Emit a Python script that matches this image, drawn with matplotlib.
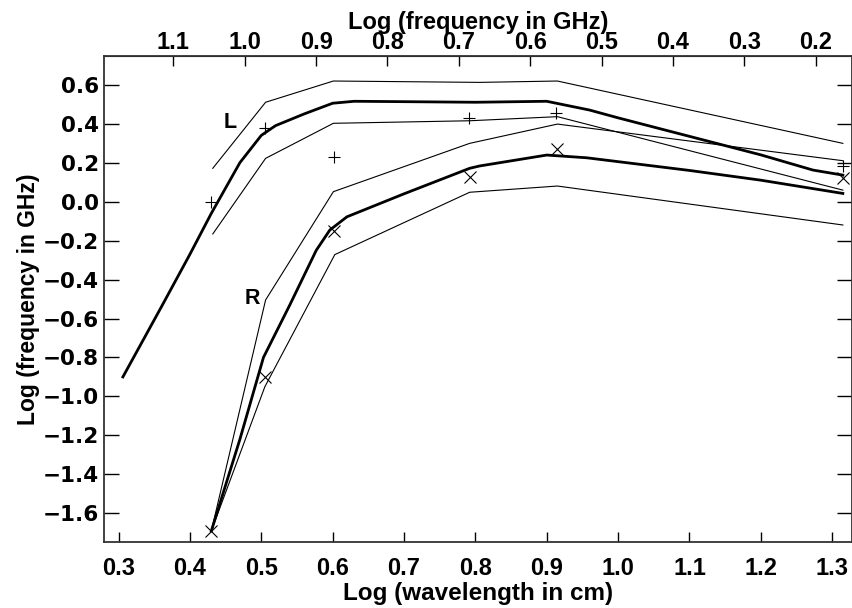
import numpy as np
import matplotlib
matplotlib.use("Agg")
import matplotlib.pyplot as plt

plt.rcParams['font.family'] = ['Liberation Sans', 'DejaVu Sans']
plt.rcParams['font.weight'] = 'bold'

WIDE = ['DejaVu Sans']

# log10(c) in GHz*cm, for the top axis
LOGC = np.log10(29.9792458)

# L: thick fit line and the two thin bounds
l_x = [0.306, 0.36, 0.40, 0.43, 0.47, 0.50, 0.52, 0.56, 0.60, 0.63, 0.70, 0.80, 0.90, 0.96, 1.00, 1.10, 1.20, 1.273, 1.315]
l_y = [-0.90, -0.54, -0.27, -0.06, 0.20, 0.34, 0.39, 0.45, 0.505, 0.515, 0.513, 0.51, 0.515, 0.47, 0.43, 0.335, 0.24, 0.162, 0.136]
l_hi_x = [0.432, 0.506, 0.601, 0.806, 0.915, 1.315]
l_hi_y = [0.171, 0.51, 0.619, 0.612, 0.619, 0.299]
l_lo_x = [0.432, 0.506, 0.601, 0.792, 0.915, 1.315]
l_lo_y = [-0.166, 0.222, 0.402, 0.415, 0.436, 0.059]

# R: thick fit line and the two thin bounds
r_x = [0.430, 0.47, 0.503, 0.54, 0.577, 0.596, 0.62, 0.70, 0.792, 0.806, 0.90, 0.956, 1.10, 1.20, 1.315]
r_y = [-1.69, -1.22, -0.80, -0.53, -0.25, -0.146, -0.078, 0.04, 0.171, 0.183, 0.239, 0.225, 0.16, 0.11, 0.042]
r_hi_x = [0.430, 0.506, 0.601, 0.792, 0.915, 1.315]
r_hi_y = [-1.69, -0.505, 0.051, 0.299, 0.398, 0.21]
r_lo_x = [0.430, 0.505, 0.603, 0.792, 0.915, 1.315]
r_lo_y = [-1.69, -0.95, -0.272, 0.048, 0.08, -0.12]

# measured points
lp_x = [0.43, 0.505, 0.602, 0.791, 0.913, 1.315]
lp_y = [0.0, 0.379, 0.227, 0.427, 0.456, 0.183]
rp_x = [0.43, 0.505, 0.602, 0.792, 0.914, 1.315]
rp_y = [-1.69, -0.899, -0.149, 0.128, 0.27, 0.12]

x_ticks = [0.3, 0.4, 0.5, 0.6, 0.7, 0.8, 0.9, 1.0, 1.1, 1.2, 1.3]
y_ticks = [-1.6, -1.4, -1.2, -1.0, -0.8, -0.6, -0.4, -0.2, 0.0, 0.2, 0.4, 0.6]
f_ticks = [1.1, 1.0, 0.9, 0.8, 0.7, 0.6, 0.5, 0.4, 0.3, 0.2]


def fmt(v):
    return ('%.1f' % v).replace('-', '\u2212')


fig = plt.figure(figsize=(8.53, 6.08), dpi=100)
ax = fig.add_axes([0.1223, 0.1086, 0.8771, 0.7998])

ax.plot(l_x, l_y, color='black', lw=2.0, solid_joinstyle='round')
ax.plot(l_hi_x, l_hi_y, color='black', lw=0.8)
ax.plot(l_lo_x, l_lo_y, color='black', lw=0.8)
ax.plot(r_x, r_y, color='black', lw=2.0, solid_joinstyle='round')
ax.plot(r_hi_x, r_hi_y, color='black', lw=0.8)
ax.plot(r_lo_x, r_lo_y, color='black', lw=0.8)

ax.plot(lp_x, lp_y, ls='none', marker='+', ms=9, mew=0.8, color='black')
ax.plot(rp_x, rp_y, ls='none', marker='x', ms=8, mew=0.8, color='black')

ax.text(0.456, 0.405, 'L', fontsize=15.5, fontweight='bold', ha='center', va='center')
ax.text(0.488, -0.495, 'R', fontsize=15.5, fontweight='bold', ha='center', va='center')

ax.set_xlim(0.28, 1.3285)
ax.set_ylim(-1.747, 0.749)

ax.set_xticks(x_ticks)
ax.set_xticklabels([fmt(v) for v in x_ticks], fontsize=17, fontweight='bold')
ax.set_yticks(y_ticks)
ax.set_yticklabels([fmt(v) for v in y_ticks], family=WIDE, fontsize=15.5, fontweight='bold')
ax.tick_params(axis='x', direction='in', length=7, width=1, pad=11)
ax.tick_params(axis='y', direction='in', length=11, width=1, right=True, pad=4)
for s in ax.spines.values():
    s.set_linewidth(1.3)
    s.set_color('#333333')

ax.set_xlabel('Log (wavelength in cm)', fontsize=17.5, fontweight='bold', labelpad=1)
ax.set_ylabel('Log (frequency in GHz)', fontsize=16.5, fontweight='bold', labelpad=2)

top = ax.secondary_xaxis('top', functions=(lambda x: LOGC - x, lambda f: LOGC - f))
top.set_xticks(f_ticks)
top.set_xticklabels([fmt(v) for v in f_ticks], fontsize=17, fontweight='bold')
top.tick_params(direction='in', length=7, width=1, pad=1)
top.set_xlabel('Log (frequency in GHz)', fontsize=17, fontweight='bold', labelpad=2)

fig.savefig('out.png', dpi=100)
